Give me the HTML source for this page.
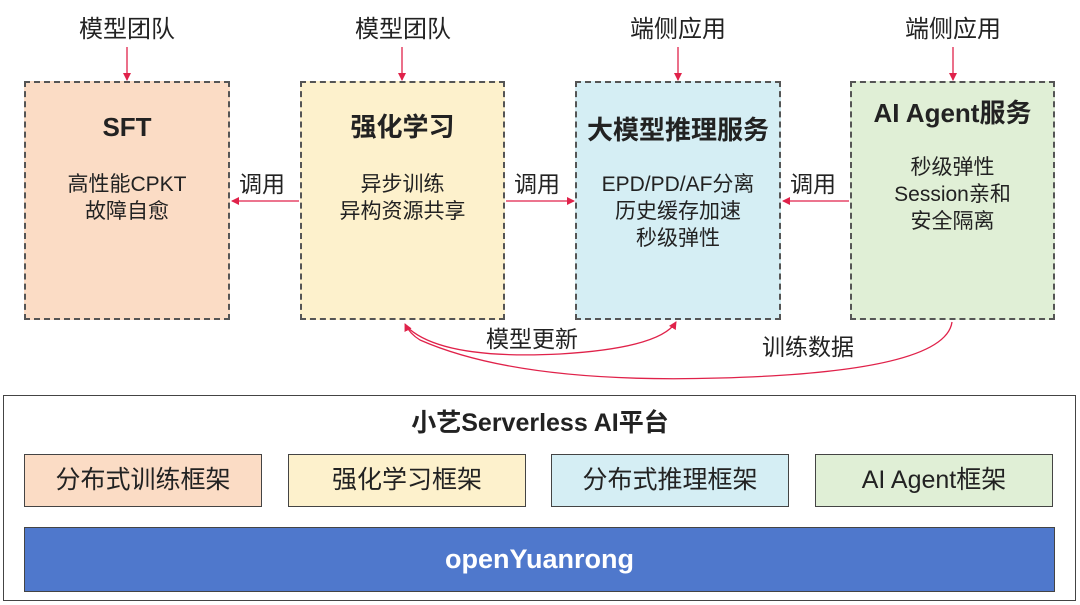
<!DOCTYPE html>
<html><head><meta charset="utf-8"><style>
*{margin:0;padding:0;box-sizing:border-box}
body{width:1080px;height:605px;background:#fff;position:relative;overflow:hidden;font-family:"Liberation Sans","Noto Sans CJK SC",sans-serif;color:#222}
.a{position:absolute}
.box{position:absolute;top:81px;height:239px;border:2px dashed #555;text-align:center}
.t{position:absolute;font-size:24px;text-align:center;width:160px}
.h{font-weight:bold;font-size:26px;line-height:34px;height:34px}
.d{font-size:21px;line-height:27px}
.f{position:absolute;top:454px;height:53px;border:1.5px solid #444;font-size:25px;text-align:center;line-height:50px;width:238px}
</style></head><body>
<div class="t" style="left:47px;top:9px">模型团队</div>
<div class="t" style="left:323px;top:9px">模型团队</div>
<div class="t" style="left:598px;top:9px">端侧应用</div>
<div class="t" style="left:873px;top:9px">端侧应用</div>

<div class="box" style="left:24px;width:206px;background:#fbdcc5">
 <div class="h" style="margin-top:27px">SFT</div>
 <div class="d" style="margin-top:27px">高性能CPKT<br>故障自愈</div></div>
<div class="box" style="left:300px;width:205px;background:#fdf1cc">
 <div class="h" style="margin-top:27px">强化学习</div>
 <div class="d" style="margin-top:27px">异步训练<br>异构资源共享</div></div>
<div class="box" style="left:575px;width:206px;background:#d5eef4">
 <div class="h" style="margin-top:30px">大模型推理服务</div>
 <div class="d" style="margin-top:24px">EPD/PD/AF分离<br>历史缓存加速<br>秒级弹性</div></div>
<div class="box" style="left:850px;width:205px;background:#e0efd6">
 <div class="h" style="margin-top:13px">AI Agent服务</div>
 <div class="d" style="margin-top:24px">秒级弹性<br>Session亲和<br>安全隔离</div></div>

<div class="a" style="left:239px;top:165px;font-size:23px">调用</div>
<div class="a" style="left:514px;top:165px;font-size:23px">调用</div>
<div class="a" style="left:790px;top:165px;font-size:23px">调用</div>
<div class="a" style="left:486px;top:320px;font-size:23px">模型更新</div>
<div class="a" style="left:762px;top:328px;font-size:23px">训练数据</div>

<svg class="a" style="left:0;top:0" width="1080" height="605">
<defs><marker id="m" markerWidth="8" markerHeight="8" refX="7" refY="4" orient="auto" markerUnits="userSpaceOnUse"><path d="M0,0 L8,4 L0,8z" fill="#e0224a"/></marker></defs>
<g stroke="#e0224a" stroke-width="1.3" fill="none" marker-end="url(#m)">
<line x1="127" y1="47" x2="127" y2="80"/>
<line x1="402" y1="47" x2="402" y2="80"/>
<line x1="678" y1="47" x2="678" y2="80"/>
<line x1="953" y1="47" x2="953" y2="80"/>
<line x1="299" y1="201" x2="232" y2="201"/>
<line x1="506" y1="201" x2="574" y2="201"/>
<line x1="849" y1="201" x2="783" y2="201"/>
<path d="M406,326 Q440,360 560,354 Q660,348 676,322"/>
<path d="M952,322 Q945,372 720,378 Q520,384 420,340 Q410,334 405,324"/>
</g>
</svg>

<div class="a" style="left:3px;top:395px;width:1073px;height:206px;border:1.5px solid #444"></div>
<div class="a" style="left:0;top:403px;width:1080px;text-align:center;font-weight:bold;font-size:25px">小艺Serverless AI平台</div>
<div class="f" style="left:24px;background:#fbdcc5">分布式训练框架</div>
<div class="f" style="left:288px;background:#fdf1cc">强化学习框架</div>
<div class="f" style="left:551px;background:#d5eef4">分布式推理框架</div>
<div class="f" style="left:815px;background:#e0efd6">AI Agent框架</div>
<div class="a" style="left:24px;top:527px;width:1031px;height:65px;background:#4f78cc;border:1.5px solid #444;color:#fff;font-weight:bold;font-size:27px;text-align:center;line-height:62px">openYuanrong</div>
</body></html>
